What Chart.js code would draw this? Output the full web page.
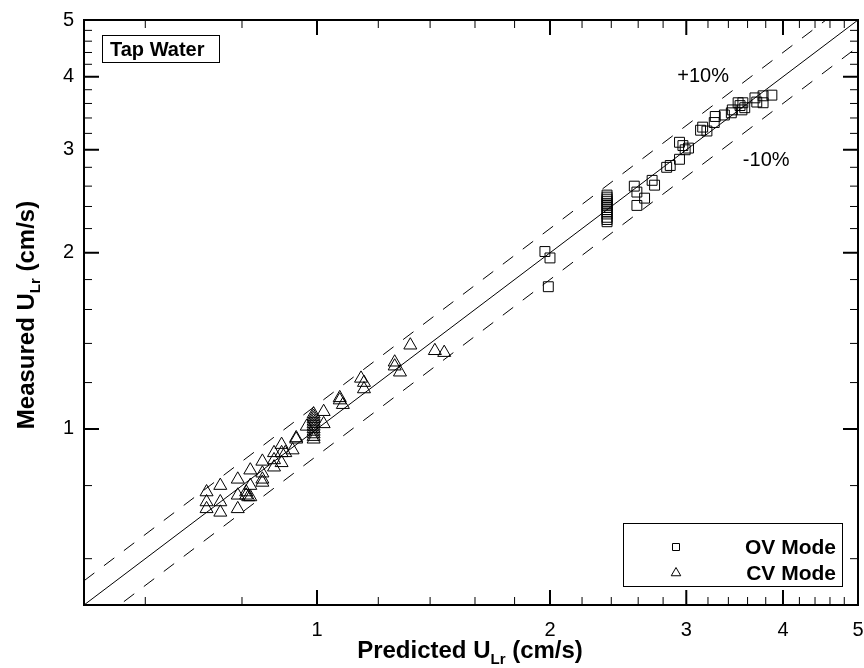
<!DOCTYPE html>
<html>
<head>
<meta charset="utf-8">
<title>Measured vs Predicted ULr - Tap Water</title>
<script src="https://cdn.jsdelivr.net/npm/chart.js@4.4.1/dist/chart.umd.min.js"></script>
<style>
  html, body { margin: 0; padding: 0; background: #fff; }
  #wrap { width: 864px; height: 668px; }
</style>
</head>
<body>
<div id="wrap"><canvas id="chart" width="864" height="668"></canvas></div>
<script>
// OV mode runs (cm/s)
const ovPredicted = [1.97, 2.00, 1.99,
  2.37, 2.37, 2.37, 2.37, 2.37, 2.37, 2.37, 2.37, 2.37, 2.37, 2.37, 2.37, 2.37,
  2.57, 2.59, 2.59, 2.65, 2.71, 2.73, 2.83, 2.86, 2.94, 2.97, 2.99, 2.94, 3.02,
  3.13, 3.15, 3.19, 3.26, 3.27, 3.36, 3.43, 3.44, 3.50, 3.52, 3.54, 3.55, 3.57,
  3.68, 3.70, 3.77, 3.77, 3.87];
const ovMeasured = [2.01, 1.96, 1.75,
  2.51, 2.49, 2.47, 2.45, 2.43, 2.41, 2.39, 2.37, 2.35, 2.33, 2.30, 2.28, 2.26,
  2.60, 2.54, 2.41, 2.48, 2.66, 2.61, 2.80, 2.82, 3.09, 3.05, 3.00, 2.89, 3.02,
  3.24, 3.28, 3.23, 3.34, 3.42, 3.44, 3.47, 3.51, 3.61, 3.57, 3.51, 3.61, 3.54,
  3.68, 3.62, 3.71, 3.61, 3.72];

// CV mode runs (cm/s)
const cvPredicted = [0.72, 0.72, 0.72, 0.75, 0.75, 0.75, 0.79, 0.79, 0.79,
  0.82, 0.82, 0.81, 0.815, 0.81, 0.82, 0.85, 0.85, 0.85, 0.85, 0.88, 0.88, 0.88,
  0.90, 0.90, 0.90, 0.91, 0.93, 0.94, 0.94, 0.97,
  0.99, 0.99, 0.99, 0.99, 0.99, 0.99, 0.99, 0.99, 0.99, 0.99, 0.99,
  1.02, 1.02, 1.07, 1.07, 1.08, 1.14, 1.15, 1.15, 1.26, 1.26, 1.28, 1.32, 1.42, 1.46];
const cvMeasured = [0.78, 0.75, 0.73, 0.80, 0.75, 0.72, 0.82, 0.77, 0.73,
  0.85, 0.80, 0.78, 0.765, 0.77, 0.765, 0.88, 0.82, 0.81, 0.84, 0.91, 0.885, 0.86,
  0.94, 0.91, 0.875, 0.91, 0.92, 0.96, 0.965, 1.01,
  1.06, 1.05, 1.04, 1.03, 1.02, 1.01, 1.00, 0.99, 0.98, 0.97, 0.96,
  1.07, 1.02, 1.13, 1.12, 1.10, 1.22, 1.20, 1.17, 1.30, 1.28, 1.25, 1.39, 1.36, 1.35];

// 1:1 line and +/-10% band
const lineX = [0.5, 5];
const lineExact = [0.5, 5];
const linePlus = [0.55, 5.5];
const lineMinus = [0.45, 4.5];

// axis ticks (same on both axes)
const majorTicks = [1, 2, 3, 4, 5];
const minorTicks = [0.6, 0.8, 1.2, 1.4, 1.6, 1.8, 2.2, 2.4, 2.6, 2.8,
  3.2, 3.4, 3.6, 3.8, 4.2, 4.4, 4.6, 4.8];

const FONT = '"Liberation Sans", Arial, Helvetica, sans-serif';

function toPoints(xs, ys) {
    return xs.map((v, i) => ({ x: v, y: ys[i] }));
}

function refLine(ys, dash) {
    return {
        type: 'line',
        data: toPoints(lineX, ys),
        borderColor: '#000',
        borderWidth: 1,
        borderDash: dash,
        pointRadius: 0,
        fill: false,
        showLine: true
    };
}

// frame, inward ticks, annotations and legend
const decorPlugin = {
    id: 'decor',
    afterDraw(chart) {
        const { ctx, chartArea: a } = chart;
        const sx = chart.scales.x, sy = chart.scales.y;
        ctx.save();
        ctx.strokeStyle = '#000';
        ctx.fillStyle = '#000';

        const marks = (values, len, width) => {
            ctx.lineWidth = width;
            ctx.beginPath();
            values.forEach(v => {
                const px = sx.getPixelForValue(v);
                if (px > a.left + 1 && px < a.right - 1) {
                    ctx.moveTo(px, a.bottom); ctx.lineTo(px, a.bottom - len);
                    ctx.moveTo(px, a.top); ctx.lineTo(px, a.top + len);
                }
                const py = sy.getPixelForValue(v);
                if (py > a.top + 1 && py < a.bottom - 1) {
                    ctx.moveTo(a.left, py); ctx.lineTo(a.left + len, py);
                    ctx.moveTo(a.right, py); ctx.lineTo(a.right - len, py);
                }
            });
            ctx.stroke();
        };
        marks(minorTicks, 8, 1);
        marks(majorTicks, 15, 2);

        ctx.lineWidth = 2;
        ctx.strokeRect(a.left, a.top, a.right - a.left, a.bottom - a.top);

        // band labels
        ctx.font = '20px ' + FONT;
        ctx.textAlign = 'left';
        ctx.textBaseline = 'alphabetic';
        ctx.fillText('+10%', sx.getPixelForValue(2.92), sy.getPixelForValue(3.92));
        ctx.fillText('-10%', sx.getPixelForValue(3.55), sy.getPixelForValue(2.82));

        // fluid label
        ctx.lineWidth = 1;
        ctx.strokeRect(a.left + 18.5, a.top + 15.5, 117, 27);
        ctx.font = 'bold 20px ' + FONT;
        ctx.fillText('Tap Water', a.left + 26, a.top + 36);

        // legend
        const bw = 219, bh = 63;
        const bx = a.right - 16 - bw, by = a.bottom - 19 - bh;
        ctx.strokeRect(Math.round(bx) + 0.5, Math.round(by) + 0.5, bw, bh);
        const mx = bx + 53;
        ctx.beginPath();
        ctx.rect(mx - 3.5, by + 20.5, 7, 7);
        ctx.stroke();
        const ty = by + 50, r = 5.5;
        ctx.beginPath();
        ctx.moveTo(mx, ty - r);
        ctx.lineTo(mx + r * 0.866, ty + r / 2);
        ctx.lineTo(mx - r * 0.866, ty + r / 2);
        ctx.closePath();
        ctx.stroke();
        ctx.textAlign = 'right';
        ctx.font = 'bold 21px ' + FONT;
        ctx.fillText('OV Mode', bx + bw - 6, by + 31);
        ctx.fillText('CV Mode', bx + bw - 6, by + 57);

        // axis titles with subscript
        const parts = (main, rest) => [
            { t: main, f: 'bold 24px ' + FONT, d: 0 },
            { t: 'Lr', f: 'bold 15px ' + FONT, d: 6 },
            { t: rest, f: 'bold 24px ' + FONT, d: 0 }
        ];
        const drawTitle = (items, cx, base) => {
            let w = 0;
            items.forEach(p => { ctx.font = p.f; p.w = ctx.measureText(p.t).width; w += p.w; });
            let x = cx - w / 2;
            ctx.textAlign = 'left';
            items.forEach(p => { ctx.font = p.f; ctx.fillText(p.t, x, base + p.d); x += p.w; });
        };
        drawTitle(parts('Predicted U', ' (cm/s)'), 470, 658);
        ctx.save();
        ctx.translate(34, 315);
        ctx.rotate(-Math.PI / 2);
        drawTitle(parts('Measured U', ' (cm/s)'), 0, 0);
        ctx.restore();

        ctx.restore();
    }
};

function axis(fit) {
    return {
        type: 'logarithmic',
        min: 0.5,
        max: 5,
        afterBuildTicks: scale => { scale.ticks = majorTicks.map(v => ({ value: v })); },
        afterFit: fit,
        grid: { display: false, drawTicks: false },
        border: { display: false },
        ticks: {
            autoSkip: false,
            maxRotation: 0,
            color: '#000',
            font: { family: FONT, size: 20 },
            callback: v => String(v)
        }
    };
}

// fixed plot box: edge labels may run past it
const xAxis = axis(scale => {
    scale.height = 63;
    scale.paddingLeft = 0;
    scale.paddingRight = 0;
});
xAxis.ticks.padding = 13;
const yAxis = axis(scale => {
    scale.width = 84;
    scale.paddingTop = 0;
    scale.paddingBottom = 0;
});
yAxis.ticks.padding = 10;

new Chart(document.getElementById('chart'), {
    type: 'scatter',
    data: {
        datasets: [
            refLine(lineExact, []),
            refLine(linePlus, [13, 12]),
            refLine(lineMinus, [13, 12]),
            {
                label: 'OV Mode',
                data: toPoints(ovPredicted, ovMeasured),
                pointStyle: 'rect',
                pointRadius: 7,
                borderWidth: 1,
                borderColor: '#000',
                backgroundColor: 'rgba(0,0,0,0)'
            },
            {
                label: 'CV Mode',
                data: toPoints(cvPredicted, cvMeasured),
                pointStyle: 'triangle',
                pointRadius: 7.5,
                borderWidth: 1,
                borderColor: '#000',
                backgroundColor: 'rgba(0,0,0,0)'
            }
        ]
    },
    options: {
        responsive: false,
        animation: false,
        devicePixelRatio: 1,
        layout: { autoPadding: false, padding: { top: 20, right: 6, left: 0, bottom: 0 } },
        plugins: {
            legend: { display: false },
            tooltip: { enabled: false }
        },
        scales: { x: xAxis, y: yAxis }
    },
    plugins: [decorPlugin]
});
</script>
</body>
</html>
